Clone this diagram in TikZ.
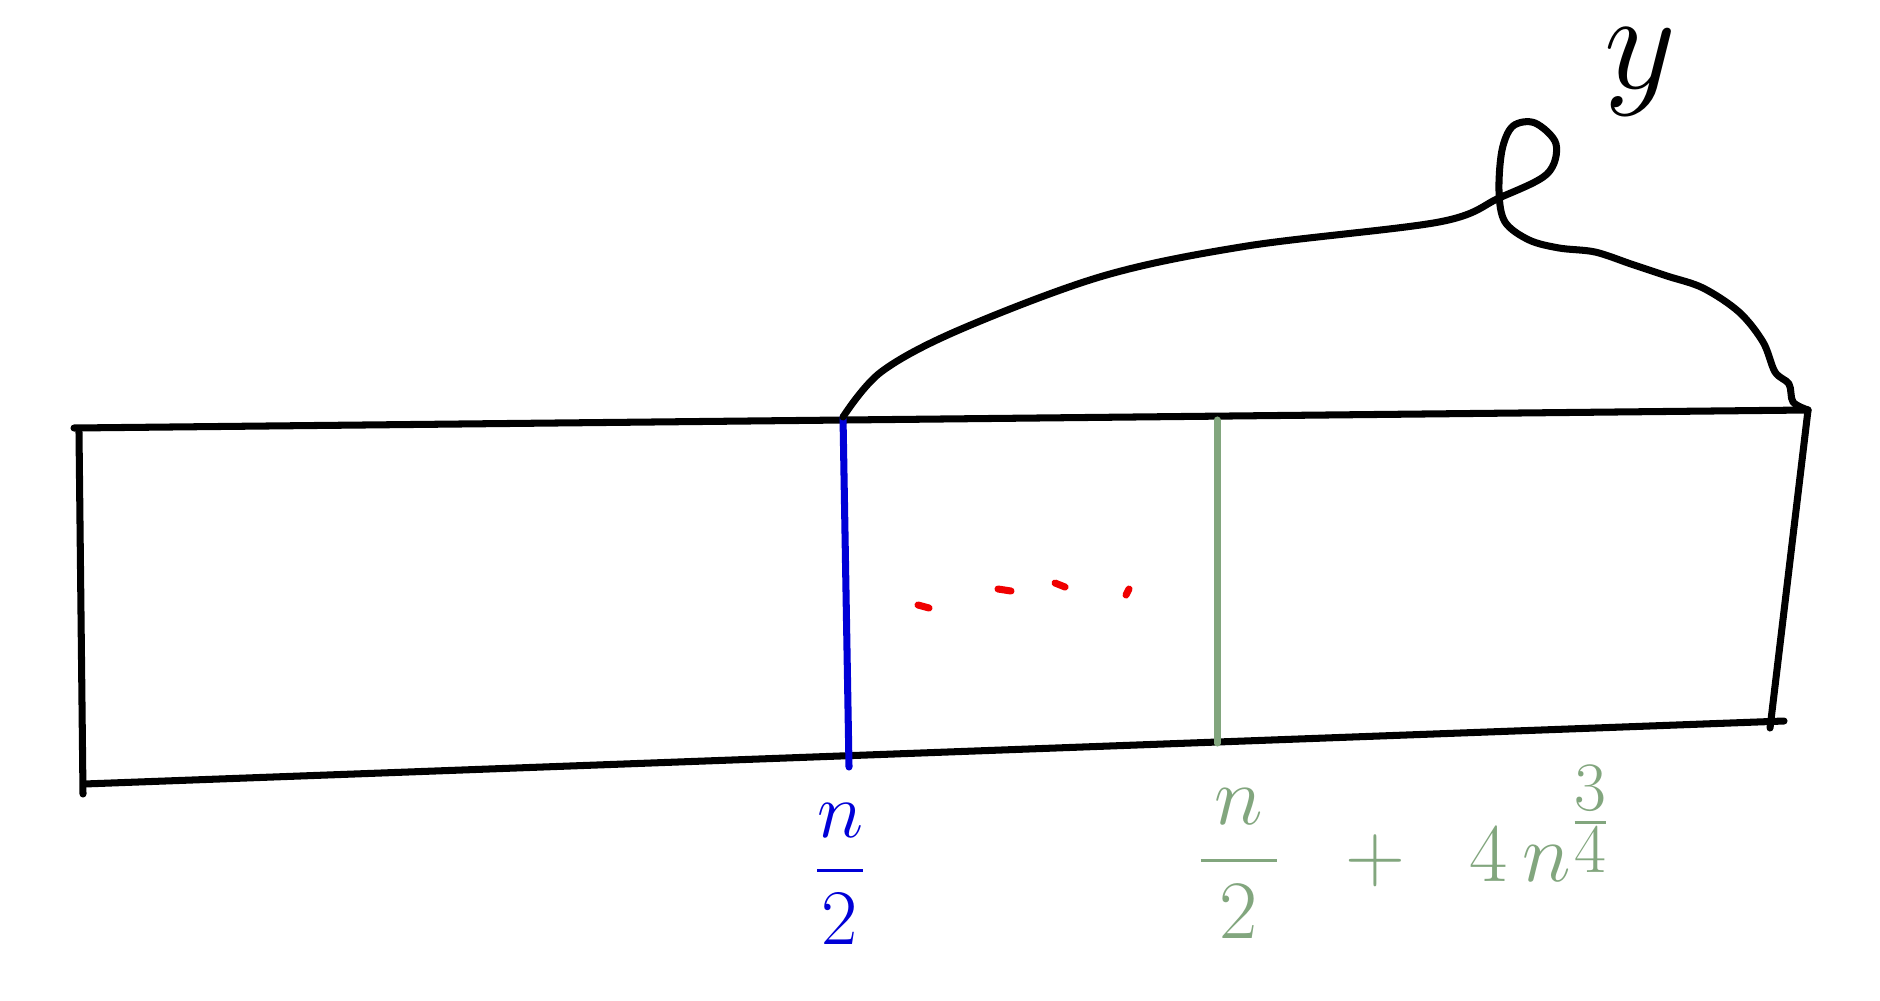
\documentclass[tikz,border=0pt]{standalone}
\usepackage{amsmath}
\definecolor{penblue}{RGB}{0,0,215}
\definecolor{pengreen}{RGB}{130,166,126}
\definecolor{penred}{RGB}{240,0,0}
\tikzset{
  ink/.style={line width=2pt, line cap=round, line join=round},
  blueink/.style={ink, draw=penblue},
  greenink/.style={ink, draw=pengreen},
  redink/.style={line width=2pt, line cap=round, draw=penred},
}
\begin{document}
\begin{tikzpicture}[x=0.01cm, y=-0.01cm]
\useasboundingbox[fill=white] (0,0) rectangle (1880,1000);
% box corners
\coordinate (tl) at (74,428);
\coordinate (tr) at (1808,410);
\coordinate (ltop) at (79,432);
\coordinate (lbot) at (83,794);
\coordinate (bl) at (84,784);
\coordinate (br) at (1784,721);
\coordinate (rbot) at (1770,728);
% the box
\draw[ink] (tl) -- (tr);
\draw[ink] (ltop) -- (lbot);
\draw[ink] (bl) -- (br);
\draw[ink] (tr) -- (rbot);
% blue and green dividers
\coordinate (btop) at (843,417);
\coordinate (bbot) at (849,767);
\coordinate (gtop) at (1217,420);
\coordinate (gbot) at (1217,743);
\draw[blueink] (btop) -- (bbot);
\draw[greenink] (gtop) -- (gbot);
% brace curve with loop
\draw[ink] plot[smooth, tension=0.55] coordinates {
  (843,417) (881,372) (959,330) (1103,276) (1247,246) (1439,222)
  (1499,198) (1547,174) (1556,144) (1535,123) (1513,126) (1502,150)
  (1499,192) (1505,222) (1529,240) (1559,248) (1595,252) (1631,264)
  (1667,276) (1703,288) (1739,312) (1763,342) (1775,372) (1789,384)
  (1793,402) (1808,410)};
% label y
\node[scale=1.6, inner sep=0pt] (ylab) at (1640,72) {\Huge $y$};
% red dots
\draw[redink] (918,605) -- (929,608);
\draw[redink] (998,589) -- (1011,591);
\draw[redink] (1055,583) -- (1065,587);
\draw[redink] (1129,589) -- (1126,595);
% labels
\node[text=penblue, scale=0.9] (bluelab) at (840,874) {\Huge $\dfrac{n}{2}$};
\node[text=pengreen, scale=0.95, anchor=west, inner sep=0pt] (greenlab) at (1196,852) {\Huge $\dfrac{\,n\,}{2}\;\;+\;\;4\,n^{\tfrac{3}{4}}$};
\end{tikzpicture}
\end{document}
